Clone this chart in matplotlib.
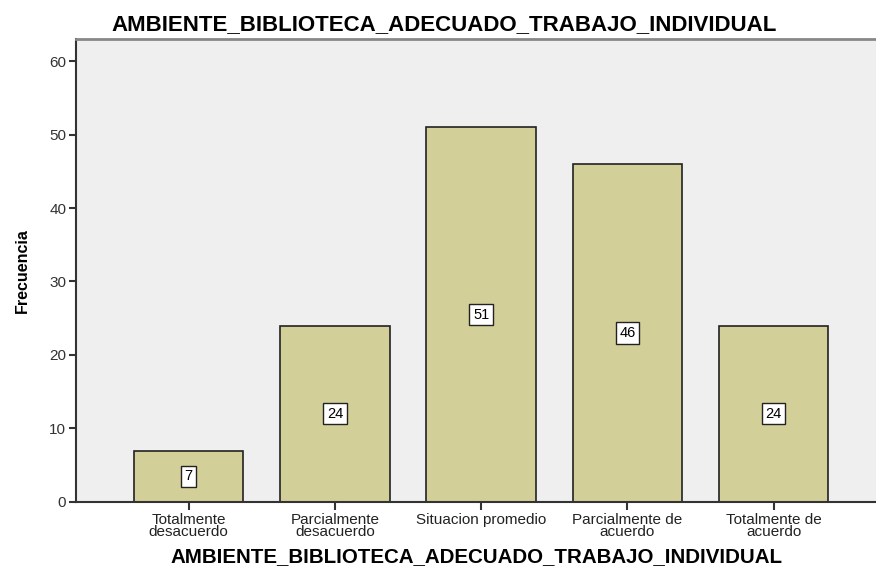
import matplotlib.pyplot as plt
import numpy as np

categorias = ['Totalmente\ndesacuerdo', 'Parcialmente\ndesacuerdo', 'Situacion promedio',
              'Parcialmente de\nacuerdo', 'Totalmente de\nacuerdo']
frecuencias = [7, 24, 51, 46, 24]
yticks = [0, 10, 20, 30, 40, 50, 60]
titulo = 'AMBIENTE_BIBLIOTECA_ADECUADO_TRABAJO_INDIVIDUAL'

plt.rcParams['font.family'] = ['Liberation Sans', 'DejaVu Sans']

fig = plt.figure(figsize=(8.76, 5.69), dpi=100)
ax = fig.add_axes([0.0868, 0.1178, 0.9132, 0.8137])
ax.set_facecolor('#efefef')

x = np.arange(len(frecuencias))
ax.bar(x, frecuencias, width=0.75, color='#d3cf98', edgecolor='#222222', linewidth=1.2, zorder=2)

# etiquetas de valor en el centro de cada barra
for xi, v in zip(x, frecuencias):
    ax.text(xi, v / 2, str(v), ha='center', va='center', fontsize=10.5, zorder=3,
            bbox=dict(boxstyle='square,pad=0.25', facecolor='white', edgecolor='#222222', linewidth=1))

ax.set_xlim(-0.77, 4.70)
ax.set_ylim(0, 63)
ax.set_yticks(yticks)
ax.set_xticks(x)
ax.set_xticklabels(categorias, fontsize=11, linespacing=0.8, color='#222222')
ax.tick_params(axis='y', labelsize=11, labelcolor='#333333', length=5, width=1.5, color='#333333', pad=2)
ax.tick_params(axis='x', length=6, width=1.5, color='#333333', pad=2)

ax.spines['left'].set_color('#333333')
ax.spines['left'].set_linewidth(1.5)
ax.spines['bottom'].set_color('#333333')
ax.spines['bottom'].set_linewidth(1.5)
ax.spines['top'].set_color('#888888')
ax.spines['top'].set_linewidth(2)
ax.spines['right'].set_visible(False)

ax.set_ylabel('Frecuencia', fontsize=11.5, fontweight='bold', labelpad=14)
ax.set_xlabel(titulo, fontsize=14.8, fontweight='bold', labelpad=6)
fig.text(0.507, 0.957, titulo, ha='center', va='center', fontsize=16, fontweight='bold')

fig.savefig('out.png', dpi=100)
